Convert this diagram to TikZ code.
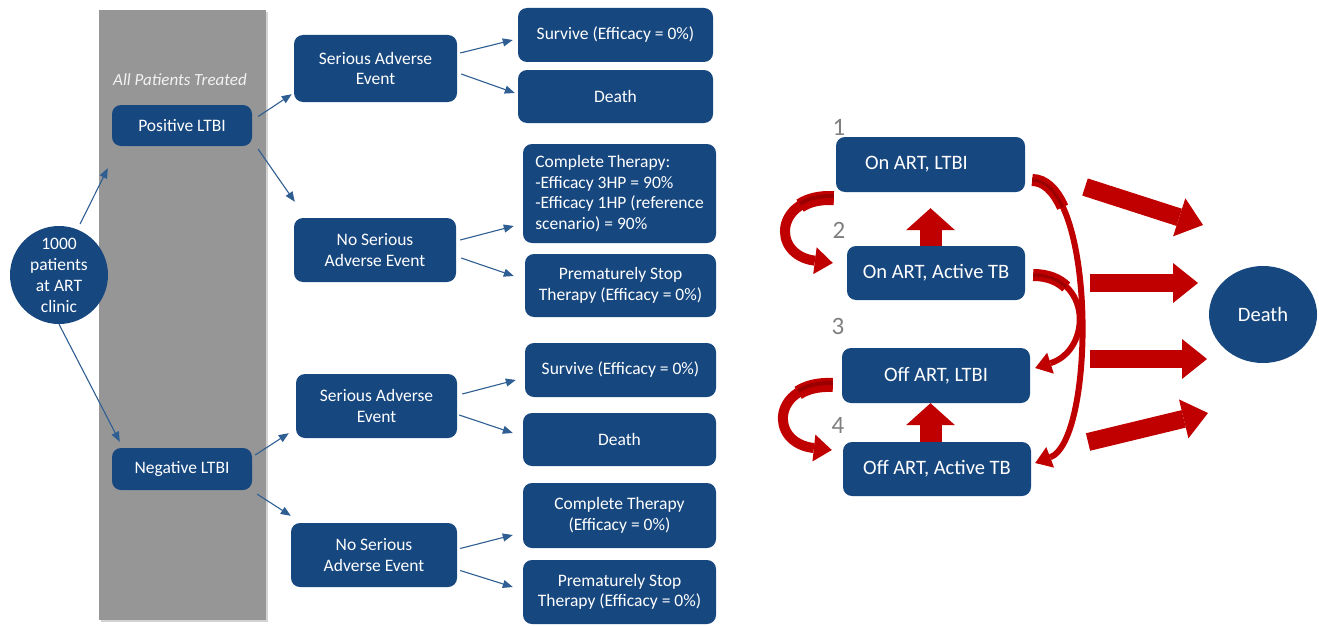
\documentclass[tikz,border=0pt]{standalone}
\usepackage{fontspec}
\setmainfont{Carlito}
\usetikzlibrary{arrows.meta,calc,shapes.geometric,shadows}
\definecolor{tbblue}{HTML}{17477F}
\definecolor{linkblue}{HTML}{2E5E92}
\definecolor{tbred}{HTML}{C00000}
\definecolor{tbdark}{HTML}{9A0000}
\definecolor{rectgray}{HTML}{969696}
\definecolor{numgray}{HTML}{7F7F7F}
\definecolor{paletext}{HTML}{F2F2F2}

\begin{document}
\begin{tikzpicture}[x=1pt,y=-1pt,
    box/.style={shape=rectangle, rounded corners=9pt, fill=tbblue, text=white, inner sep=0pt, align=center, font=\fontsize{17.5}{20.5}\selectfont},
    state/.style={box, font=\fontsize{20.5}{24}\selectfont},
    blob/.style={fill=tbblue, text=white, inner sep=0pt, align=center},
    num/.style={text=numgray, inner sep=0pt, font=\fontsize{25}{25}\selectfont},
    link/.style={draw=linkblue, line width=1.1pt, -{Triangle[length=10pt,width=8pt]}},
    toDeath/.style={draw=tbred, line width=18pt, -{Triangle[length=25pt,width=40pt,line width=0pt]}},
    toUp/.style={draw=tbred, line width=22pt, -{Triangle[length=22pt,width=49pt,line width=0pt]}},
    swoopL/.style={draw=tbred, line width=10pt, -{Triangle[length=18pt,width=27pt,line width=0pt]}},
    swoopR/.style={draw=tbred, line width=6pt, -{Triangle[length=16pt,width=22pt,line width=0pt]}},
    swoopbase/.style={draw=tbred, line cap=butt},
    swoopshade/.style={draw=tbdark, line cap=butt, line width=4pt}]
\useasboundingbox (0,0) rectangle (1319,626);

\fill[rectgray, drop shadow={shadow xshift=1.5pt, shadow yshift=-2pt, opacity=0.35}] (99,10) rectangle (266,620);
\node[text=paletext, inner sep=0pt, font=\fontsize{17}{20}\selectfont\itshape] (treated) at (180,80) {All Patients Treated};

\node[blob, shape=circle, minimum size=98pt, font=\fontsize{17.5}{21}\selectfont] (circ) at (59,275) {1000\\patients\\at ART\\clinic};
\node[box, minimum width=140pt, minimum height=41pt] (pos) at (182,125.5) {Positive LTBI};
\node[box, minimum width=140pt, minimum height=42pt] (neg) at (182,469) {Negative LTBI};

\node[box, minimum width=163pt, minimum height=67pt] (sae1) at (375.5,68.5) {Serious Adverse\\Event};
\node[box, minimum width=162pt, minimum height=64pt] (nsae1) at (375,250) {No Serious\\Adverse Event};
\node[box, minimum width=161pt, minimum height=64pt] (sae2) at (376.5,406) {Serious Adverse\\Event};
\node[box, minimum width=166pt, minimum height=64pt] (nsae2) at (374,555) {No Serious\\Adverse Event};

\node[box, minimum width=195pt, minimum height=54pt] (surv1) at (615.5,35) {Survive (Efficacy = 0\%)};
\node[box, minimum width=195pt, minimum height=53pt] (die1) at (615.5,96.5) {Death};
\node[box, minimum width=193pt, minimum height=99pt, align=left] (comp1) at (619.5,193.5) {Complete Therapy:\\-Efficacy 3HP = 90\%\\-Efficacy 1HP (reference\\scenario) = 90\%};
\node[box, minimum width=191pt, minimum height=63pt] (stop1) at (620.5,285.5) {Prematurely Stop\\Therapy (Efficacy = 0\%)};
\node[box, minimum width=191pt, minimum height=54pt] (surv2) at (620.5,370) {Survive (Efficacy = 0\%)};
\node[box, minimum width=193pt, minimum height=53pt] (die2) at (619.5,439.5) {Death};
\node[box, minimum width=193pt, minimum height=65pt] (comp2) at (619.5,515.5) {Complete Therapy\\(Efficacy = 0\%)};
\node[box, minimum width=193pt, minimum height=64pt] (stop2) at (619.5,592) {Prematurely Stop\\Therapy (Efficacy = 0\%)};

\draw[link, shorten <=6pt] (circ.68) -- ($(pos.south west)+(-4,22)$);
\draw[link] (circ.south) -- ($(neg.north west)+(8,-6)$);
\draw[link] ($(pos.east)+(6,-9)$) -- ($(sae1.south west)+(-2,-8)$);
\draw[link] ($(pos.south east)+(6,3)$) -- ($(nsae1.north west)+(1,-16)$);
\draw[link] ($(neg.east)+(3,-14)$) -- ($(sae2.south west)+(-7,-5)$);
\draw[link] ($(neg.south east)+(5,4)$) -- ($(nsae2.north west)+(0,-7)$);
\draw[link] ($(sae1.east)+(3,-15.5)$) -- ($(surv1.west)+(-5,5)$);
\draw[link] ($(sae1.east)+(4,5.5)$) -- ($(die1.west)+(-3,-3.5)$);
\draw[link] ($(nsae1.east)+(4,-10)$) -- ($(comp1.west)+(-9,32.5)$);
\draw[link] ($(nsae1.east)+(5,8)$) -- ($(stop1.west)+(-11,-9.5)$);
\draw[link] ($(sae2.east)+(5,-12)$) -- ($(surv2.west)+(-9,10)$);
\draw[link] ($(sae2.east)+(2,9)$) -- ($(die2.west)+(-10,-6.5)$);
\draw[link] ($(nsae2.east)+(3,-6.5)$) -- ($(comp2.west)+(-10,19.5)$);
\draw[link] ($(nsae2.east)+(3,15.5)$) -- ($(stop2.west)+(-10,-5)$);

\node[state, minimum width=189pt, minimum height=55pt] (s1) at (930.5,164.5) {\makebox[131pt][l]{On ART, LTBI}};
\node[state, minimum width=178pt, minimum height=54pt] (s2) at (936,273) {On ART, Active TB};
\node[state, minimum width=188pt, minimum height=55pt] (s3) at (936,375.5) {Off ART, LTBI};
\node[state, minimum width=188pt, minimum height=54pt] (s4) at (937,469) {Off ART, Active TB};
\node[blob, shape=ellipse, minimum width=108pt, minimum height=97pt, font=\fontsize{20.5}{24}\selectfont] (dead) at (1263,314.5) {Death};

\node[num] (n1) at (839,127) {1};
\node[num] (n2) at (839,230) {2};
\node[num] (n3) at (838,326) {3};
\node[num] (n4) at (838,425) {4};

\draw[toUp, shorten >=16pt] (s1.south |- s2.north) -- (s1.south);
\draw[toUp] (s1.south |- s4.north) -- (s1.south |- s3.south);

\coordinate (l1) at ($(s1.south west)+(-2,6)$);
\coordinate (l2) at ($(s3.west)+(-9,9.5)$);
\coordinate (r1) at ($(s1.east)+(7,15.5)$);
\coordinate (r2) at ($(s2.east)+(8,2)$);
\draw[swoopL] (l1) .. controls (775,195) and (770,255) .. ($(s2.west)+(-14,-10)$);
\draw[swoopL] (l2) .. controls (772,382) and (768,443) .. ($(s4.west)+(-11,-19)$);
\draw[swoopR] (r1) .. controls (1096,180) and (1096,440) .. ($(s4.east)+(4,-6)$);
\draw[swoopR] (r2) .. controls (1092,275) and (1092,350) .. ($(s3.east)+(5,-7.5)$);
\draw[swoopbase, line width=14pt] (l1) .. controls (819.25,197.25) and (807.9,200.4) .. (800.1,205.7);
\draw[swoopbase, line width=14pt] (l2) .. controls (817.75,384.25) and (806.1,387.5) .. (798.1,392.9);
\draw[swoopbase, line width=12pt] (r1) .. controls (1044.8,180) and (1055,190.4) .. (1062.7,207.2);
\draw[swoopbase, line width=12pt] (r2) .. controls (1047.75,275) and (1058.8,279.7) .. (1066.2,287);
\draw[swoopshade] ([yshift=2pt]l1) .. controls (819.25,195.5) and (807.9,198.6) .. (800.1,203.9);
\draw[swoopshade] ([yshift=2pt]l2) .. controls (817.75,382.5) and (806.1,385.7) .. (798.1,391.1);
\draw[swoopshade, line width=3pt] (r1) .. controls (1044.8,180) and (1055,190.4) .. (1062.7,207.2);
\draw[swoopshade, line width=3pt] (r2) .. controls (1047.75,275) and (1058.8,279.7) .. (1066.2,287);

\coordinate (d1a) at (1085,187);
\coordinate (d1b) at (1203,225);
\coordinate (d2a) at (1090,283);
\coordinate (d2b) at (1198,283);
\coordinate (d3a) at (1090,359);
\coordinate (d3b) at (1207,359);
\coordinate (d4a) at (1088,442);
\coordinate (d4b) at (1208,413);
\draw[toDeath] (d1a) -- (d1b);
\draw[toDeath] (d2a) -- (d2b);
\draw[toDeath] (d3a) -- (d3b);
\draw[toDeath] (d4a) -- (d4b);
\end{tikzpicture}
\end{document}
